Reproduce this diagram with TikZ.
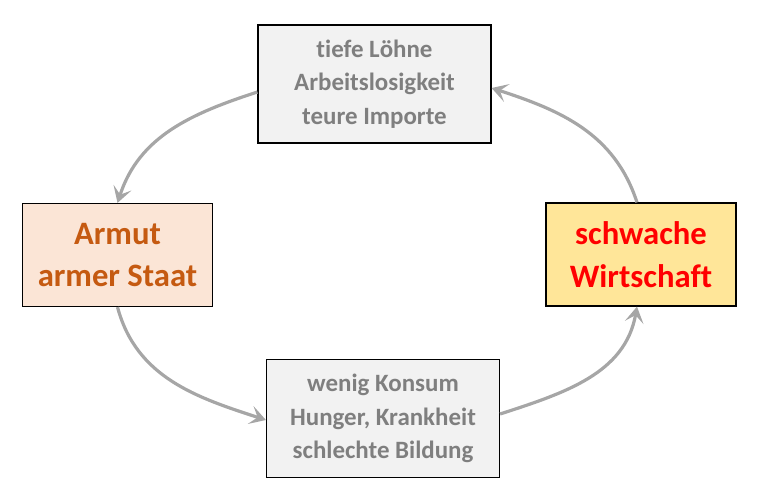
\documentclass[tikz,border=0pt]{standalone}
\usepackage{fontspec}
\setmainfont[Ligatures=NoCommon]{Carlito}
\usetikzlibrary{arrows.meta}
\definecolor{graytxt}{HTML}{7F7F7F}
\definecolor{grayfill}{HTML}{F2F2F2}
\definecolor{peach}{HTML}{FBE5D6}
\definecolor{brownorange}{HTML}{C55A11}
\definecolor{yellowfill}{HTML}{FFE699}
\definecolor{arrowgray}{HTML}{A6A6A6}
\begin{document}
\begin{tikzpicture}[x=0.75pt,y=-0.75pt,
  box/.style={draw=black, line width=0.9pt, inner sep=0pt, align=center, font=\bfseries},
  smallbox/.style={box, fill=grayfill, text=graytxt, minimum width=233*0.75pt, minimum height=118*0.75pt, font=\bfseries\fontsize{18.7}{25}\selectfont},
  bigbox/.style={box, minimum width=190*0.75pt, minimum height=103*0.75pt, font=\bfseries\fontsize{24.5}{32}\selectfont},
  cyc/.style={draw=arrowgray, line width=2.4pt, -{Stealth[length=12pt,width=14pt,inset=5.5pt]}}]
\useasboundingbox (0,0) rectangle (757,500);
\node[smallbox] (top) at (374.5,84) {tiefe Löhne\\Arbeitslosigkeit\\teure Importe};
\node[smallbox] (bot) at (383,418.5) {wenig Konsum\\Hunger, Krankheit\\schlechte Bildung};
\node[bigbox, fill=peach, text=brownorange] (left) at (117.5,255) {Armut\\armer Staat};
\node[bigbox, fill=yellowfill, text=red] (right) at (641,254.5) {schwache\\Wirtschaft};
\draw[cyc] (top.west |- 0,92) to[out=198,in=72] (left.north);
\draw[cyc] (left.south) to[out=-75,in=162] (bot.west |- 0,420);
\draw[cyc] (bot.east |- 0,414) to[out=18,in=-100] (right.south -| 637,0);
\draw[cyc] (right.north -| 637,0) to[out=108,in=-18] (top.east |- 0,88);
\end{tikzpicture}
\end{document}
